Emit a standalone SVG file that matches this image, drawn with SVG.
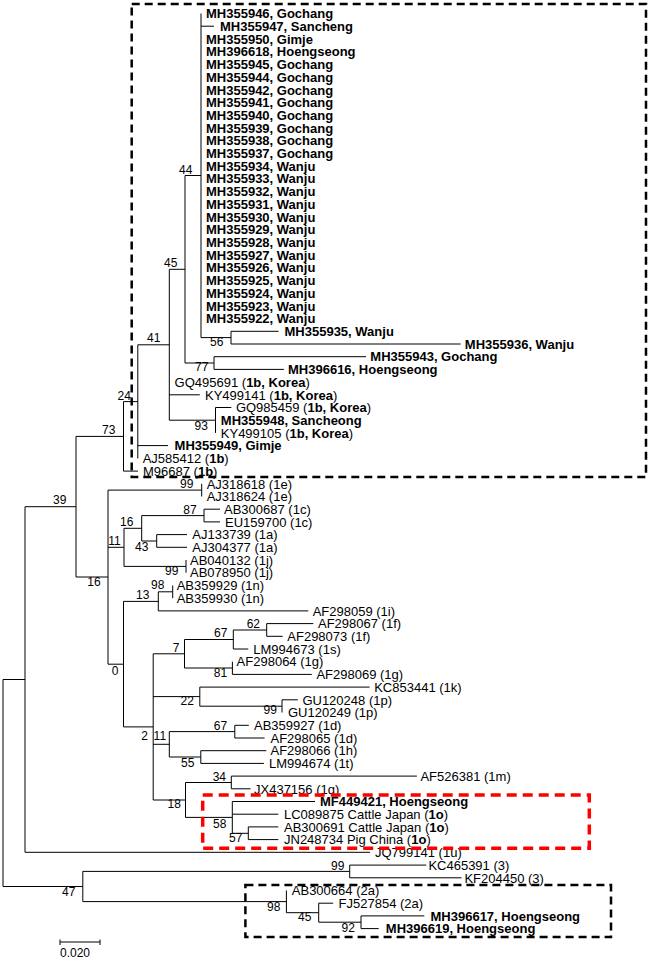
<svg xmlns="http://www.w3.org/2000/svg" width="649" height="968" viewBox="0 0 649 968">
<style>
.lf{font-family:"Liberation Sans",Arial,sans-serif;font-size:13px;fill:#000}
.b{font-weight:bold}
.bs{font-family:"Liberation Sans",Arial,sans-serif;font-size:12px;fill:#000}
.br{fill:none;stroke:#000;stroke-width:1}
.boxk{fill:none;stroke:#000;stroke-width:2.5;stroke-dasharray:8,5}
.boxr{fill:none;stroke:#f00;stroke-width:3.5;stroke-dasharray:10,6}
</style>
<rect width="649" height="968" fill="#fff"/>
<g id="connectors" class="br">
<path d="M3 679.5V886.5M3 679.5H25M3 886.5H82.8"/>
<path d="M25 506.7V852.3M25 506.7H76M25 852.3H370"/>
<path d="M76 436.4V577M76 436.4H123.5M76 577H108"/>
<path d="M123.5 401.6V471.1M123.5 401.6H137.8M123.5 471.1H138"/>
<path d="M137.8 344.8V458.4M137.8 344.8H169.3M137.8 445.6H168"/>
<path d="M169.3 269.3V420.2M169.3 269.3H185M169.3 394.8H199.8M169.3 420.2H215.5"/>
<path d="M215.5 407.5V432.9M215.5 407.5H231.3"/>
<path d="M185 175.5V363M185 175.5H201M185 363H214"/>
<path d="M214 356.7V369.4M214 356.7H366M214 369.4H283.8"/>
<path d="M201 13.5V337.6M201 26.2H214M201 337.6H231"/>
<path d="M231 331.3V344M231 331.3H278.6M231 344H460.6"/>
<path d="M108 490.1V664.2M108 490.1H201.7M108 547.3H124M108 664.2H123.5"/>
<path d="M201.7 483.8V496.5"/>
<path d="M124 528.3V566.4M124 528.3H141.7M124 566.4H186"/>
<path d="M141.7 515.6V541M141.7 515.6H204M141.7 541H156.7"/>
<path d="M204 509.2V521.9M204 509.2H220M204 521.9H220"/>
<path d="M156.7 534.6V547.3M156.7 534.6H187M156.7 547.3H187"/>
<path d="M186 560V572.7"/>
<path d="M123.5 601.4V726.9M123.5 601.4H158.3M123.5 726.9H153.2"/>
<path d="M158.3 591.8V610.9M158.3 591.8H172.7M158.3 610.9H308.3"/>
<path d="M172.7 585.5V598.2"/>
<path d="M153.2 653.8V800M153.2 653.8H184.5M153.2 696.6H199.8M153.2 744.3H169.3M153.2 800H185.5"/>
<path d="M184.5 639.5V668M184.5 639.5H233.3M184.5 668H232.4"/>
<path d="M233.3 630V649M233.3 630H266.7M233.3 649H248.3"/>
<path d="M266.7 623.6V636.3M266.7 623.6H313.3M266.7 636.3H282.7"/>
<path d="M232.4 661.7V674.4M232.4 674.4H311.8"/>
<path d="M199.8 687.1V706.2M199.8 687.1H369.6M199.8 706.2H282"/>
<path d="M282 699.8V712.5M282 699.8H297.8"/>
<path d="M169.3 731.6V757M169.3 731.6H234.8M169.3 757H200.8"/>
<path d="M234.8 725.3V738M234.8 725.3H248.8M234.8 738H264.6"/>
<path d="M200.8 750.7V763.4M200.8 750.7H266.3M200.8 763.4H263.9"/>
<path d="M185.5 782.5V817.4M185.5 782.5H231.3M185.5 817.4H232.3"/>
<path d="M231.3 776.1V788.8M231.3 776.1H416.9M231.3 788.8H250.6"/>
<path d="M232.3 801.5V833.3M232.3 801.5H315M232.3 814.2H278.3M232.3 833.3H248.3"/>
<path d="M248.3 826.9V839.6M248.3 826.9H278.3M248.3 839.6H278.3"/>
<path d="M82.8 871.4V901.6M82.8 871.4H349.7M82.8 901.6H286.4"/>
<path d="M349.7 865.1V877.8M349.7 865.1H426.3M349.7 877.8H461.5"/>
<path d="M286.4 890.5V912.7M286.4 912.7H318.7"/>
<path d="M318.7 903.2V922.2M318.7 903.2H333.2M318.7 922.2H361"/>
<path d="M361 915.9V928.6M361 915.9H424.3M361 928.6H378.7"/>
</g>
<g id="leaves">
<g id="n0"><text class="lf b" x="206" y="18.2">MH355946, Gochang</text></g>
<g id="n1"><text class="lf b" x="220" y="30.9">MH355947, Sancheng</text></g>
<g id="n2"><text class="lf b" x="206" y="43.6">MH355950, Gimje</text></g>
<g id="n3"><text class="lf b" x="206" y="56.3">MH396618, Hoengseong</text></g>
<g id="n4"><text class="lf b" x="206" y="69">MH355945, Gochang</text></g>
<g id="n5"><text class="lf b" x="206" y="81.8">MH355944, Gochang</text></g>
<g id="n6"><text class="lf b" x="206" y="94.5">MH355942, Gochang</text></g>
<g id="n7"><text class="lf b" x="206" y="107.2">MH355941, Gochang</text></g>
<g id="n8"><text class="lf b" x="206" y="119.9">MH355940, Gochang</text></g>
<g id="n9"><text class="lf b" x="206" y="132.6">MH355939, Gochang</text></g>
<g id="n10"><text class="lf b" x="206" y="145.3">MH355938, Gochang</text></g>
<g id="n11"><text class="lf b" x="206" y="158">MH355937, Gochang</text></g>
<g id="n12"><text class="lf b" x="206" y="170.7">MH355934, Wanju</text></g>
<g id="n13"><text class="lf b" x="206" y="183.4">MH355933, Wanju</text></g>
<g id="n14"><text class="lf b" x="206" y="196.1">MH355932, Wanju</text></g>
<g id="n15"><text class="lf b" x="206" y="208.9">MH355931, Wanju</text></g>
<g id="n16"><text class="lf b" x="206" y="221.6">MH355930, Wanju</text></g>
<g id="n17"><text class="lf b" x="206" y="234.3">MH355929, Wanju</text></g>
<g id="n18"><text class="lf b" x="206" y="247">MH355928, Wanju</text></g>
<g id="n19"><text class="lf b" x="206" y="259.7">MH355927, Wanju</text></g>
<g id="n20"><text class="lf b" x="206" y="272.4">MH355926, Wanju</text></g>
<g id="n21"><text class="lf b" x="206" y="285.1">MH355925, Wanju</text></g>
<g id="n22"><text class="lf b" x="206" y="297.8">MH355924, Wanju</text></g>
<g id="n23"><text class="lf b" x="206" y="310.5">MH355923, Wanju</text></g>
<g id="n24"><text class="lf b" x="206" y="323.2">MH355922, Wanju</text></g>
<g id="n25"><text class="lf b" x="284.5" y="336">MH355935, Wanju</text></g>
<g id="n26"><text class="lf b" x="464.8" y="348.7">MH355936, Wanju</text></g>
<g id="n27"><text class="lf b" x="370.3" y="361.4">MH355943, Gochang</text></g>
<g id="n28"><text class="lf b" x="288" y="374.1">MH396616, Hoengseong</text></g>
<g id="n29"><text class="lf" x="174.6" y="386.8">GQ495691 (<tspan class="b">1b, Korea</tspan>)</text></g>
<g id="n30"><text class="lf" x="205" y="399.5">KY499141 (<tspan class="b">1b, Korea</tspan>)</text></g>
<g id="n31"><text class="lf" x="235.9" y="412.2">GQ985459 (<tspan class="b">1b, Korea</tspan>)</text></g>
<g id="n32"><text class="lf b" x="220.8" y="424.9">MH355948, Sancheong</text></g>
<g id="n33"><text class="lf" x="220.8" y="437.6">KY499105 (<tspan class="b">1b, Korea</tspan>)</text></g>
<g id="n34"><text class="lf b" x="174.6" y="450.3">MH355949, Gimje</text></g>
<g id="n35"><text class="lf" x="142.7" y="463.1">AJ585412 (<tspan class="b">1b</tspan>)</text></g>
<g id="n36"><text class="lf" x="143" y="475.8">M96687 (<tspan class="b">1b</tspan>)</text></g>
<g id="n37"><text class="lf" x="206.7" y="488.5">AJ318618 (1e)</text></g>
<g id="n38"><text class="lf" x="206.7" y="501.2">AJ318624 (1e)</text></g>
<g id="n39"><text class="lf" x="224" y="513.9">AB300687 (1c)</text></g>
<g id="n40"><text class="lf" x="225" y="526.6">EU159700 (1c)</text></g>
<g id="n41"><text class="lf" x="192.3" y="539.3">AJ133739 (1a)</text></g>
<g id="n42"><text class="lf" x="192.3" y="552">AJ304377 (1a)</text></g>
<g id="n43"><text class="lf" x="190" y="564.7">AB040132 (1j)</text></g>
<g id="n44"><text class="lf" x="190" y="577.4">AB078950 (1j)</text></g>
<g id="n45"><text class="lf" x="176.7" y="590.2">AB359929 (1n)</text></g>
<g id="n46"><text class="lf" x="176.7" y="602.9">AB359930 (1n)</text></g>
<g id="n47"><text class="lf" x="312.7" y="615.6">AF298059 (1i)</text></g>
<g id="n48"><text class="lf" x="318" y="628.3">AF298067 (1f)</text></g>
<g id="n49"><text class="lf" x="287.3" y="641">AF298073 (1f)</text></g>
<g id="n50"><text class="lf" x="253.3" y="653.7">LM994673 (1s)</text></g>
<g id="n51"><text class="lf" x="236.6" y="666.4">AF298064 (1g)</text></g>
<g id="n52"><text class="lf" x="316.4" y="679.1">AF298069 (1g)</text></g>
<g id="n53"><text class="lf" x="374.2" y="691.8">KC853441 (1k)</text></g>
<g id="n54"><text class="lf" x="302.4" y="704.5">GU120248 (1p)</text></g>
<g id="n55"><text class="lf" x="288" y="717.2">GU120249 (1p)</text></g>
<g id="n56"><text class="lf" x="254" y="730">AB359927 (1d)</text></g>
<g id="n57"><text class="lf" x="270.5" y="742.7">AF298065 (1d)</text></g>
<g id="n58"><text class="lf" x="270.5" y="755.4">AF298066 (1h)</text></g>
<g id="n59"><text class="lf" x="269" y="768.1">LM994674 (1t)</text></g>
<g id="n60"><text class="lf" x="420.4" y="780.8">AF526381 (1m)</text></g>
<g id="n61"><text class="lf" x="254" y="793.5">JX437156 (1q)</text></g>
<g id="n62"><text class="lf b" x="320" y="806.2">MF449421, Hoengseong</text></g>
<g id="n63"><text class="lf" x="284" y="818.9">LC089875 Cattle Japan (<tspan class="b">1o</tspan>)</text></g>
<g id="n64"><text class="lf" x="284" y="831.6">AB300691 Cattle Japan (<tspan class="b">1o</tspan>)</text></g>
<g id="n65"><text class="lf" x="284" y="844.3">JN248734 Pig China (<tspan class="b">1o</tspan>)</text></g>
<g id="n66"><text class="lf" x="375" y="857">JQ799141 (1u)</text></g>
<g id="n67"><text class="lf" x="428.4" y="869.8">KC465391 (3)</text></g>
<g id="n68"><text class="lf" x="464.4" y="882.5">KF204450 (3)</text></g>
<g id="n69"><text class="lf" x="291.8" y="895.2">AB300664 (2a)</text></g>
<g id="n70"><text class="lf" x="338.6" y="907.9">FJ527854 (2a)</text></g>
<g id="n71"><text class="lf b" x="430.5" y="920.6">MH396617, Hoengseong</text></g>
<g id="n72"><text class="lf b" x="385.8" y="933.3">MH396619, Hoengseong</text></g>
</g>
<g id="bootstrap" class="bs">
<g id="i44"><text x="179" y="174.3">44</text></g>
<g id="i45"><text x="164" y="266.6">45</text></g>
<g id="i56"><text x="210" y="346.3">56</text></g>
<g id="i41"><text x="147" y="342.3">41</text></g>
<g id="i77"><text x="195" y="371">77</text></g>
<g id="i93"><text x="194.5" y="430.3">93</text></g>
<g id="i24"><text x="117.5" y="400.3">24</text></g>
<g id="i73"><text x="102" y="434.3">73</text></g>
<g id="i39"><text x="53" y="504.3">39</text></g>
<g id="i99a"><text x="180" y="487.6">99</text></g>
<g id="i87"><text x="183.3" y="513.6">87</text></g>
<g id="i16b"><text x="120" y="526">16</text></g>
<g id="i43"><text x="135" y="551">43</text></g>
<g id="i11a"><text x="108.3" y="545">11</text></g>
<g id="i99b"><text x="165" y="575.3">99</text></g>
<g id="i16a"><text x="87.3" y="586.3">16</text></g>
<g id="i98a"><text x="151" y="589.3">98</text></g>
<g id="i13"><text x="136" y="599.3">13</text></g>
<g id="i62"><text x="246.7" y="628.3">62</text></g>
<g id="i67a"><text x="214" y="637.3">67</text></g>
<g id="i7"><text x="172.7" y="652">7</text></g>
<g id="i81"><text x="213.8" y="677.3">81</text></g>
<g id="i0"><text x="111.7" y="675.3">0</text></g>
<g id="i22"><text x="180.5" y="705.3">22</text></g>
<g id="i99p"><text x="263.5" y="714.3">99</text></g>
<g id="i67b"><text x="213.8" y="730.3">67</text></g>
<g id="i11b"><text x="153.6" y="740.3">11</text></g>
<g id="i2"><text x="141.3" y="740.3">2</text></g>
<g id="i55"><text x="181" y="767">55</text></g>
<g id="i34"><text x="212.7" y="781">34</text></g>
<g id="i18"><text x="167.6" y="808.3">18</text></g>
<g id="i58"><text x="213" y="827.6">58</text></g>
<g id="i57"><text x="229" y="842.3">57</text></g>
<g id="i99k"><text x="331" y="870.3">99</text></g>
<g id="i47"><text x="62" y="896.3">47</text></g>
<g id="i98b"><text x="267" y="911">98</text></g>
<g id="i45b"><text x="298" y="921.3">45</text></g>
<g id="i92"><text x="341.5" y="932">92</text></g>
</g>
<g id="boxes">
<rect class="boxk" x="131.7" y="4" width="514.3" height="473"/>
<rect class="boxr" x="202.7" y="795" width="386.6" height="53.3"/>
<rect class="boxk" x="245.4" y="885" width="365.6" height="52"/>
</g>
<g id="scale">
<path class="br" d="M60 942H100M60 939.5V945M100 939.5V945"/>
<text class="bs" x="60" y="957">0.020</text>
</g>
</svg>
